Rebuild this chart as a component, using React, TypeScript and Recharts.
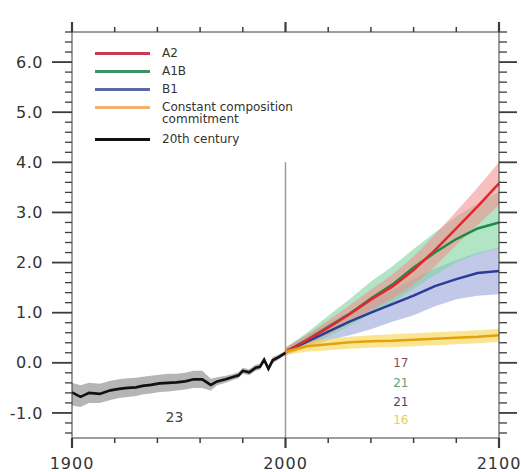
import { Area, ComposedChart, Line, ReferenceDot, ReferenceLine, XAxis, YAxis } from 'recharts'

// 20th century observed/simulated mean and spread
const histYears = [1900, 1904, 1908, 1913, 1918, 1922, 1926, 1930, 1933, 1937, 1941, 1945, 1949, 1953, 1957, 1961, 1965, 1968, 1972, 1975, 1978, 1980, 1983, 1986, 1988, 1990, 1992, 1994, 1997, 2000]
const histMean = [-0.59, -0.68, -0.6, -0.62, -0.55, -0.52, -0.5, -0.49, -0.46, -0.44, -0.41, -0.4, -0.39, -0.37, -0.33, -0.33, -0.44, -0.37, -0.33, -0.29, -0.25, -0.16, -0.19, -0.1, -0.08, 0.06, -0.12, 0.05, 0.12, 0.2]
const histLow = [-0.85, -0.88, -0.8, -0.8, -0.74, -0.7, -0.68, -0.66, -0.63, -0.61, -0.58, -0.57, -0.55, -0.53, -0.5, -0.5, -0.55, -0.45, -0.4, -0.35, -0.31, -0.22, -0.25, -0.16, -0.14, 0, -0.18, -0.01, 0.07, 0.16]
const histHigh = [-0.4, -0.45, -0.4, -0.42, -0.36, -0.33, -0.31, -0.3, -0.28, -0.26, -0.24, -0.22, -0.22, -0.2, -0.16, -0.16, -0.32, -0.29, -0.26, -0.23, -0.19, -0.1, -0.13, -0.04, -0.02, 0.12, -0.06, 0.11, 0.17, 0.24]

// scenario projections
const futureYears = [2000, 2010, 2020, 2030, 2040, 2050, 2060, 2070, 2080, 2090, 2100]
const a2 = [0.22, 0.45, 0.7, 0.97, 1.26, 1.52, 1.85, 2.25, 2.68, 3.12, 3.58]
const a2Low = [0.15, 0.35, 0.57, 0.8, 1.05, 1.28, 1.55, 1.92, 2.35, 2.75, 3.15]
const a2High = [0.3, 0.56, 0.85, 1.15, 1.46, 1.76, 2.12, 2.56, 3.02, 3.5, 4.0]
const a1b = [0.22, 0.46, 0.72, 0.98, 1.28, 1.56, 1.9, 2.2, 2.47, 2.68, 2.8]
const a1bLow = [0.15, 0.33, 0.52, 0.74, 0.98, 1.2, 1.48, 1.75, 2.0, 2.18, 2.28]
const a1bHigh = [0.3, 0.6, 0.94, 1.27, 1.62, 1.92, 2.27, 2.6, 2.92, 3.18, 3.42]
const b1 = [0.22, 0.42, 0.62, 0.82, 1.0, 1.17, 1.34, 1.53, 1.67, 1.79, 1.83]
const b1Low = [0.15, 0.3, 0.45, 0.55, 0.67, 0.82, 0.95, 1.13, 1.27, 1.34, 1.37]
const b1High = [0.3, 0.55, 0.8, 1.02, 1.25, 1.45, 1.68, 1.88, 2.05, 2.2, 2.3]
const commit = [0.22, 0.33, 0.37, 0.41, 0.43, 0.44, 0.46, 0.48, 0.5, 0.52, 0.55]
const commitLow = [0.16, 0.22, 0.25, 0.28, 0.3, 0.31, 0.33, 0.35, 0.37, 0.39, 0.42]
const commitHigh = [0.26, 0.42, 0.48, 0.52, 0.55, 0.57, 0.59, 0.61, 0.63, 0.65, 0.68]

// model counts written on the plot
const noteText = ['23', '17', '21', '21', '16']
const noteYear = [1948, 2054, 2054, 2054, 2054]
const noteValue = [-1.08, 0.0, -0.4, -0.78, -1.14]
const noteColor = ['#444444', '#8a4a66', '#5f9e78', '#45457a', '#e6cf5a']

const legendNames = ['A2', 'A1B', 'B1', 'Constant composition commitment', '20th century']
const legendColors = ['#c83a55', '#3a9463', '#5a6aa0', '#f2b26e', '#111111']

const xTicks = [1900, 1920, 1940, 1960, 1980, 2000, 2020, 2040, 2060, 2080, 2100]
const xLabels = [1900, 2000, 2100]
const yLabels = [-1, 0, 1, 2, 3, 4, 5, 6]
const yTicks = Array.from({ length: 41 }, (_, i) => Math.round((-1.4 + i * 0.2) * 10) / 10)

const X_DOMAIN: [number, number] = [1900, 2100]
const Y_DOMAIN: [number, number] = [-1.5, 6.6]
const W = 521
const H = 472
const AXIS = '#3c3c3c'
const FONT = '"DejaVu Sans", sans-serif'

const histData = histYears.map((year, i) => ({ year, mean: histMean[i], low: histLow[i], high: histHigh[i] }))
const futureData = futureYears.map((year, i) => ({
  year,
  a2: a2[i], a2Low: a2Low[i], a2High: a2High[i],
  a1b: a1b[i], a1bLow: a1bLow[i], a1bHigh: a1bHigh[i],
  b1: b1[i], b1Low: b1Low[i], b1High: b1High[i],
  commit: commit[i], commitLow: commitLow[i], commitHigh: commitHigh[i],
}))
const notes = noteText.map((text, i) => ({ text, x: noteYear[i], y: noteValue[i], color: noteColor[i] }))

const isMajorY = (v: number) => yLabels.includes(v)

function BottomTick(props: any) {
  const x = Number(props.x)
  const y = Number(props.y)
  const major = xLabels.includes(props.payload.value)
  return (
    <g>
      <path d={`M${x},${y}V${y + (major ? 10 : 5)}`} stroke={AXIS} strokeWidth={major ? 2.2 : 1.5} fill="none" />
      {major && (
        <text x={x} y={y + 25} dy="0.35em" textAnchor="middle" fontSize={16} letterSpacing={1} fontFamily={FONT} fill="#333">
          {props.payload.value}
        </text>
      )}
    </g>
  )
}

function TopTick(props: any) {
  const x = Number(props.x)
  const y = Number(props.y)
  const major = xLabels.includes(props.payload.value)
  return (
    <g>
      <path d={`M${x},${y}V${y - (major ? 10 : 5)}`} stroke={AXIS} strokeWidth={major ? 2.2 : 1.5} fill="none" />
    </g>
  )
}

function LeftTick(props: any) {
  const x = Number(props.x)
  const y = Number(props.y)
  const major = isMajorY(props.payload.value)
  return (
    <g>
      <path d={`M${x - (major ? 20 : 7)},${y}H${x}`} stroke={AXIS} strokeWidth={major ? 1.8 : 1.3} fill="none" />
      {major && (
        <text x={x - 29} y={y} dy="0.35em" textAnchor="end" fontSize={16} letterSpacing={0.5} fontFamily={FONT} fill="#333">
          {props.payload.value.toFixed(1)}
        </text>
      )}
    </g>
  )
}

function RightTick(props: any) {
  const x = Number(props.x)
  const y = Number(props.y)
  const major = isMajorY(props.payload.value)
  return (
    <g>
      <path d={`M${x},${y}H${x + (major ? 18 : 8)}`} stroke={AXIS} strokeWidth={major ? 1.8 : 1.3} fill="none" />
    </g>
  )
}

function ChartLegend() {
  return (
    <div style={{ position: 'absolute', left: 95, top: 44, width: 260, fontFamily: FONT, fontSize: 12, color: '#333' }}>
      {legendNames.map((name, i) => (
        <div key={name} style={{ display: 'flex', alignItems: 'flex-start', marginBottom: i === 3 ? 5 : 0 }}>
          <div style={{ width: 55, height: 18, display: 'flex', alignItems: 'center', flexShrink: 0 }}>
            <div style={{ width: 55, height: 3, background: legendColors[i] }} />
          </div>
          <div style={{ marginLeft: 12, width: 165, lineHeight: '12px', paddingTop: 3 }}>{name}</div>
        </div>
      ))}
    </div>
  )
}

// bands, scenario lines and notes; axes hidden, plot box set by the margins
function DataLayer() {
  return (
    <ComposedChart width={W} height={H} margin={{ top: 32, right: 22, bottom: 34, left: 72 }}>
      <XAxis dataKey="year" type="number" domain={X_DOMAIN} hide />
      <YAxis type="number" domain={Y_DOMAIN} hide />
      <ReferenceLine segment={[{ x: 2000, y: 4.0 }, { x: 2000, y: -1.5 }]} stroke="#9a9a9a" strokeWidth={1.5} />
      <Area data={histData} dataKey={(d: any) => [d.low, d.high]} stroke="none" fill="#9c9c9c" fillOpacity={0.75} isAnimationActive={false} />
      <Area data={futureData} dataKey={(d: any) => [d.b1Low, d.b1High]} stroke="none" fill="#9aa3d8" fillOpacity={0.6} isAnimationActive={false} />
      <Area data={futureData} dataKey={(d: any) => [d.a1bLow, d.a1bHigh]} stroke="none" fill="#7fd3a0" fillOpacity={0.6} isAnimationActive={false} />
      <Area data={futureData} dataKey={(d: any) => [d.a2Low, d.a2High]} stroke="none" fill="#f48a8a" fillOpacity={0.55} isAnimationActive={false} />
      <Area data={futureData} dataKey={(d: any) => [d.commitLow, d.commitHigh]} stroke="none" fill="#f6d64a" fillOpacity={0.6} isAnimationActive={false} />
      <Line data={futureData} dataKey="b1" name="B1" stroke="#2b3b96" strokeWidth={2.5} dot={false} isAnimationActive={false} />
      <Line data={futureData} dataKey="a1b" name="A1B" stroke="#1f8a45" strokeWidth={2.5} dot={false} isAnimationActive={false} />
      <Line data={futureData} dataKey="a2" name="A2" stroke="#e3262e" strokeWidth={2.5} dot={false} isAnimationActive={false} />
      {notes.map((n, i) => (
        <ReferenceDot
          key={i}
          x={n.x}
          y={n.y}
          r={1}
          shape={(p: any) => (
            <text x={p.cx} y={p.cy} dy="0.35em" textAnchor="middle" fontSize={i === 0 ? 14 : 12} fontFamily={FONT} fill={n.color}>
              {n.text}
            </text>
          )}
        />
      ))}
    </ComposedChart>
  )
}

// frame with all four tick scales, plus the commitment and 20th century lines on top
function AxisLayer() {
  return (
    <ComposedChart width={W} height={H} margin={{ top: 20, right: 0, bottom: 0, left: 0 }}>
      <XAxis dataKey="year" type="number" domain={X_DOMAIN} ticks={xTicks} interval={0} height={34} tickSize={0} tickMargin={0} tickLine={false} stroke={AXIS} tick={BottomTick} />
      <XAxis xAxisId="top" dataKey="year" orientation="top" type="number" domain={X_DOMAIN} ticks={xTicks} interval={0} height={12} tickSize={0} tickMargin={0} tickLine={false} stroke={AXIS} tick={TopTick} />
      <YAxis type="number" domain={Y_DOMAIN} ticks={yTicks} interval={0} width={72} tickSize={0} tickMargin={0} tickLine={false} stroke={AXIS} tick={LeftTick} />
      <YAxis yAxisId="right" orientation="right" type="number" domain={Y_DOMAIN} ticks={yTicks} interval={0} width={22} tickSize={0} tickMargin={0} tickLine={false} stroke={AXIS} tick={RightTick} />
      <Line data={futureData} dataKey="commit" name="Constant composition commitment" stroke="#e3a20c" strokeWidth={2.5} dot={false} isAnimationActive={false} />
      <Line data={histData} xAxisId="top" yAxisId="right" dataKey="mean" name="20th century" stroke="#111111" strokeWidth={2.6} dot={false} isAnimationActive={false} />
    </ComposedChart>
  )
}

export default function App() {
  return (
    <div style={{ position: 'absolute', left: 0, top: 0, width: W, height: H }}>
      <div style={{ position: 'absolute', left: 0, top: 0 }}>
        <DataLayer />
      </div>
      <div style={{ position: 'absolute', left: 0, top: 0 }}>
        <AxisLayer />
      </div>
      <ChartLegend />
    </div>
  )
}
